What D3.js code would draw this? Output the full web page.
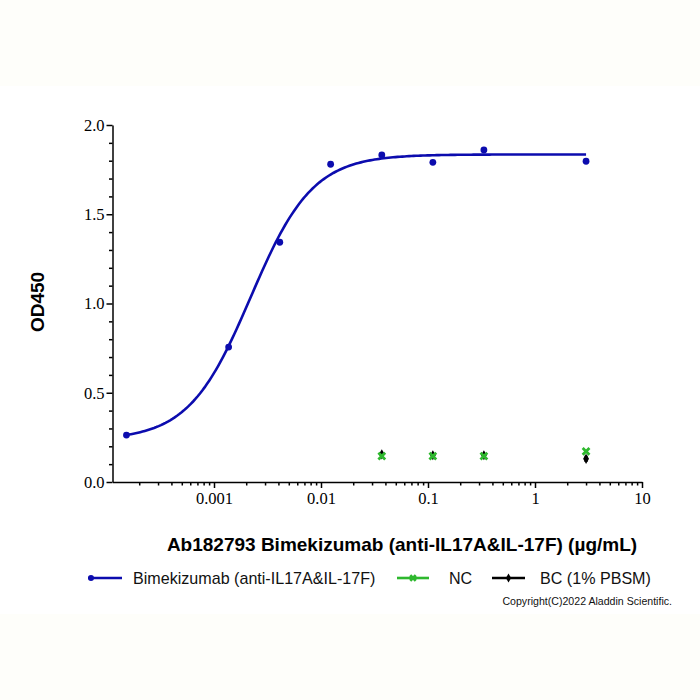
<!DOCTYPE html>
<html>
<head>
<meta charset="utf-8">
<script src="https://cdn.jsdelivr.net/npm/d3@7"></script>
<style>
  html, body { margin: 0; padding: 0; background: #fefefa; }
  svg { display: block; }
</style>
</head>
<body>
<svg id="chart" width="700" height="700"></svg>
<script>
// ---- data ----
const concentrations = [0.000152, 0.00137, 0.00412, 0.0123, 0.037, 0.111, 0.333, 3];
const bimekizumab = [0.263, 0.756, 1.343, 1.78, 1.832, 1.791, 1.86, 1.797];
const ctrlConc = [0.037, 0.111, 0.333, 3];
const ncValues = [0.145, 0.145, 0.145, 0.172];
const bcValues = [0.155, 0.15, 0.15, 0.13];
const bcErr = [0, 0, 0, 0.018];
// 4PL fit parameters of the drawn curve
const fitBottom = 0.235, fitTop = 1.835, fitEC50 = 0.0022, fitHill = 1.5;
const xTickLabels = [0.001, 0.01, 0.1, 1, 10];
const yTickLabels = [0, 0.5, 1.0, 1.5, 2.0];
const legendNames = ["Bimekizumab (anti-IL17A&IL-17F)", "NC", "BC (1% PBSM)"];

const blue = "#0c0cae", green = "#2eb82e", black = "#000";

const svg = d3.select("#chart");
svg.append("rect").attr("x", 0).attr("y", 86).attr("width", 700).attr("height", 528).attr("fill", "#fff");

const xMin = Math.pow(10, -4 + 5.5 / 107);
const x = d3.scaleLog().domain([xMin, 10]).range([112.5, 642]);
const y = d3.scaleLinear().domain([0, 2]).range([482, 125]);

// ---- axes ----
const gx = svg.append("g").attr("transform", `translate(0,${y(0)})`);
const minorX = [];
for (let e = -4; e < 1; e++) for (let m = 2; m <= 9; m++) { const v = m * Math.pow(10, e); if (v >= xMin && v <= 10) minorX.push(v); }
gx.append("g").call(d3.axisBottom(x).tickValues(minorX).tickSize(3.5).tickFormat(""))
  .call(g => g.select(".domain").remove());
gx.append("g").call(d3.axisBottom(x).tickValues(xTickLabels).tickSize(6).tickSizeOuter(0).tickPadding(4)
  .tickFormat(d => d3.format("~g")(d)));
gx.selectAll("line, path").attr("stroke", black).attr("stroke-width", 1.5);
gx.selectAll("text").attr("font-family", "Liberation Serif, serif").attr("font-size", 16.5).attr("fill", black);

const gy = svg.append("g").attr("transform", `translate(${x(xMin)},0)`);
const minorY = d3.range(0, 2.0001, 0.1).filter(v => Math.abs(v * 2 - Math.round(v * 2)) > 1e-6);
gy.append("g").call(d3.axisLeft(y).tickValues(minorY).tickSize(3.5).tickFormat(""))
  .call(g => g.select(".domain").remove());
gy.append("g").call(d3.axisLeft(y).tickValues(yTickLabels).tickSize(6).tickSizeOuter(0).tickPadding(2)
  .tickFormat(d3.format(".1f")));
gy.selectAll("line, path").attr("stroke", black).attr("stroke-width", 1.5);
gy.selectAll("text").attr("font-family", "Liberation Serif, serif").attr("font-size", 16.5).attr("fill", black);

// ---- fit curve ----
const fit = c => fitBottom + (fitTop - fitBottom) / (1 + Math.pow(fitEC50 / c, fitHill));
const lg0 = Math.log10(concentrations[0]), lg1 = Math.log10(concentrations[concentrations.length - 1]);
const curvePts = d3.range(0, 201).map(i => Math.pow(10, lg0 + (lg1 - lg0) * i / 200));
svg.append("path").datum(curvePts)
  .attr("fill", "none").attr("stroke", blue).attr("stroke-width", 2.6)
  .attr("d", d3.line().x(d => x(d)).y(d => y(fit(d))));

svg.append("g").selectAll("circle").data(concentrations).join("circle")
  .attr("cx", d => x(d)).attr("cy", (d, i) => y(bimekizumab[i])).attr("r", 3.4).attr("fill", blue);

// ---- controls ----
function xMark(g, cx, cy, s, col) {
  g.append("path").attr("d", `M${cx - s},${cy - s}L${cx + s},${cy + s}M${cx - s},${cy + s}L${cx + s},${cy - s}`)
    .attr("stroke", col).attr("stroke-width", 2.8);
}
const gc = svg.append("g");
ctrlConc.forEach((c, i) => {
  const cx = x(c);
  if (bcErr[i] > 0) {
    gc.append("line").attr("x1", cx).attr("x2", cx).attr("y1", y(bcValues[i] - bcErr[i])).attr("y2", y(bcValues[i] + bcErr[i]))
      .attr("stroke", black).attr("stroke-width", 3);
  }
  gc.append("path").attr("d", d3.symbol(d3.symbolDiamond, 30)()).attr("transform", `translate(${cx},${y(bcValues[i])})`).attr("fill", black);
  xMark(gc, cx, y(ncValues[i]), 3.4, green);
});

// ---- titles ----
svg.append("text").attr("x", 402).attr("y", 551).attr("text-anchor", "middle")
  .attr("font-family", "Liberation Sans, Arial, sans-serif").attr("font-weight", "bold").attr("font-size", 19)
  .text("Ab182793 Bimekizumab (anti-IL17A&IL-17F) (µg/mL)");
svg.append("text").attr("transform", "translate(44,302) rotate(-90)").attr("text-anchor", "middle")
  .attr("font-family", "Liberation Sans, Arial, sans-serif").attr("font-weight", "bold").attr("font-size", 19)
  .text("OD450");

// ---- legend ----
const legY = 578;
const legItems = [
  { x1: 88, x2: 122, tx: 133, col: blue, mark: "dot", name: legendNames[0] },
  { x1: 397, x2: 429, tx: 449, col: green, mark: "x", name: legendNames[1] },
  { x1: 492, x2: 525, tx: 540, col: black, mark: "diamond", name: legendNames[2] }
];
const gl = svg.append("g");
legItems.forEach(it => {
  gl.append("line").attr("x1", it.x1).attr("x2", it.x2).attr("y1", legY).attr("y2", legY).attr("stroke", it.col).attr("stroke-width", 2.6);
  const mx = (it.x1 + it.x2) / 2;
  if (it.mark === "dot") gl.append("circle").attr("cx", it.x1 + 3).attr("cy", legY).attr("r", 3).attr("fill", it.col);
  else if (it.mark === "x") xMark(gl, mx, legY, 2.8, it.col);
  else gl.append("path").attr("d", d3.symbol(d3.symbolDiamond, 24)()).attr("transform", `translate(${mx},${legY})`).attr("fill", it.col);
  gl.append("text").attr("x", it.tx).attr("y", legY + 6)
    .attr("font-family", "Liberation Sans, Arial, sans-serif").attr("font-size", 16.1).attr("fill", "#111").text(it.name);
});

svg.append("text").attr("x", 672).attr("y", 605).attr("text-anchor", "end")
  .attr("font-family", "Liberation Sans, Arial, sans-serif").attr("font-size", 10.6).attr("fill", "#111")
  .text("Copyright(C)2022 Aladdin Scientific.");
</script>
</body>
</html>
